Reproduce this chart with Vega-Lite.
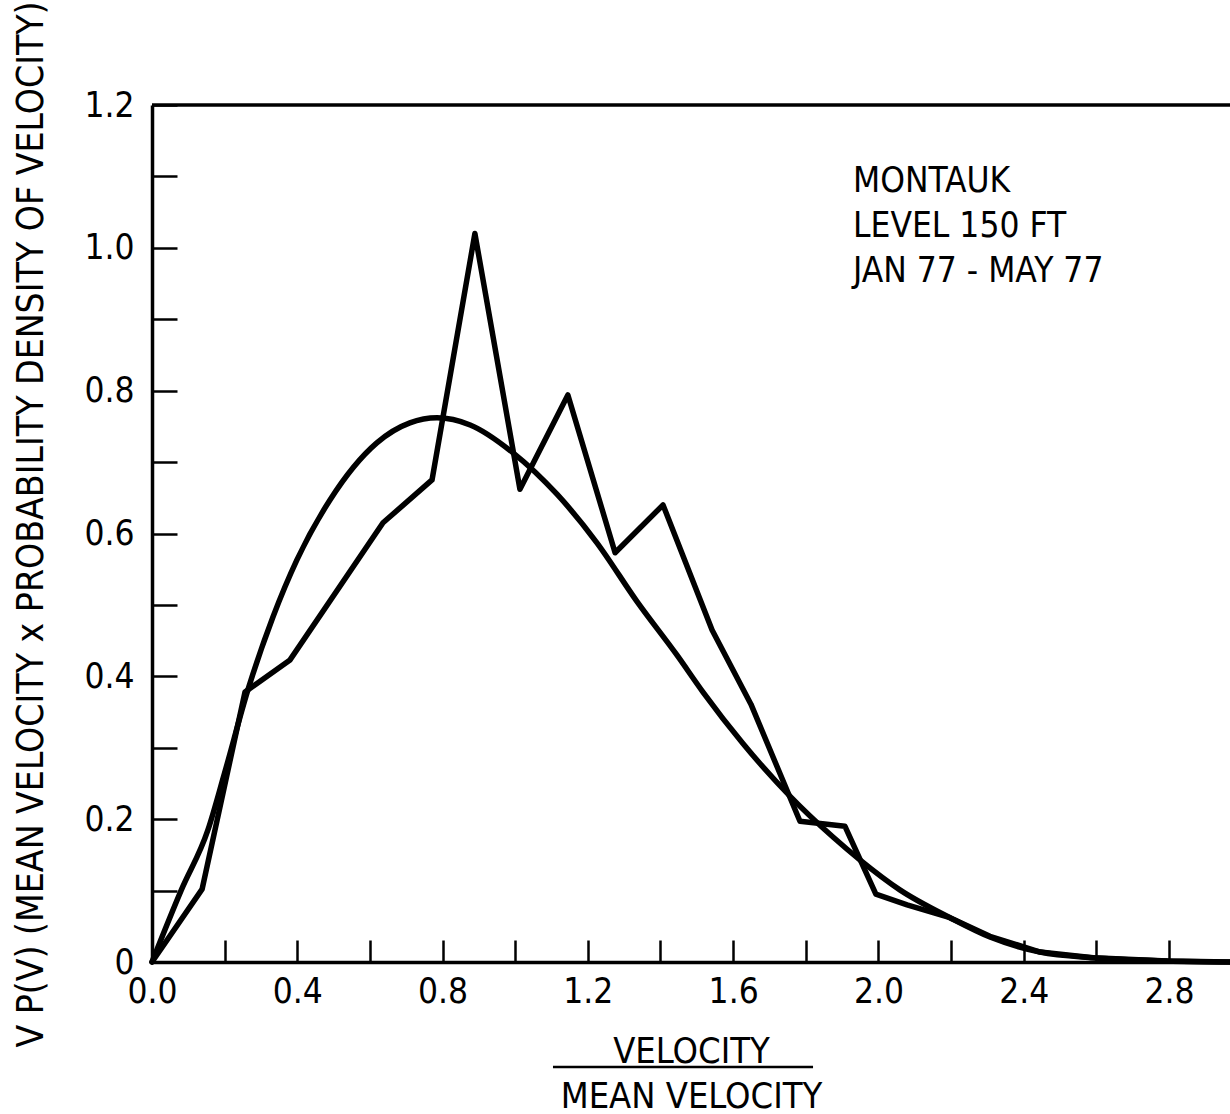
{
  "$schema": "https://vega.github.io/schema/vega-lite/v6.json",
  "width": 1078,
  "height": 857,
  "autosize": {"type": "none"},
  "padding": {"left": 152, "top": 105, "right": 0, "bottom": 152},
  "background": "white",
  "config": {"view": {"stroke": null}, "font": "DejaVu Sans Condensed, DejaVu Sans, sans-serif"},
  "datasets": {
    "observed": [
      {"v": 0, "vp": 0}, {"v": 0.138, "vp": 0.102}, {"v": 0.256, "vp": 0.378}, {"v": 0.38, "vp": 0.423},
      {"v": 0.636, "vp": 0.615}, {"v": 0.771, "vp": 0.675}, {"v": 0.889, "vp": 1.02}, {"v": 1.013, "vp": 0.662},
      {"v": 1.145, "vp": 0.794}, {"v": 1.275, "vp": 0.573}, {"v": 1.407, "vp": 0.64}, {"v": 1.542, "vp": 0.465},
      {"v": 1.649, "vp": 0.361}, {"v": 1.784, "vp": 0.197}, {"v": 1.908, "vp": 0.19}, {"v": 1.993, "vp": 0.095},
      {"v": 2.079, "vp": 0.08}, {"v": 2.197, "vp": 0.062}, {"v": 2.307, "vp": 0.036}, {"v": 2.445, "vp": 0.014},
      {"v": 2.591, "vp": 0.006}, {"v": 2.795, "vp": 0.0015}, {"v": 2.968, "vp": 0}
    ],
    "fitted": [
      {"v": 0, "vp": 0}, {"v": 0.08, "vp": 0.1}, {"v": 0.154, "vp": 0.185}, {"v": 0.2, "vp": 0.265},
      {"v": 0.264, "vp": 0.381}, {"v": 0.333, "vp": 0.483}, {"v": 0.399, "vp": 0.563}, {"v": 0.49, "vp": 0.647},
      {"v": 0.619, "vp": 0.727}, {"v": 0.71, "vp": 0.755}, {"v": 0.785, "vp": 0.762}, {"v": 0.876, "vp": 0.752},
      {"v": 0.994, "vp": 0.713}, {"v": 1.115, "vp": 0.655}, {"v": 1.225, "vp": 0.587}, {"v": 1.335, "vp": 0.505},
      {"v": 1.445, "vp": 0.43}, {"v": 1.517, "vp": 0.378}, {"v": 1.627, "vp": 0.306}, {"v": 1.757, "vp": 0.232},
      {"v": 1.875, "vp": 0.175}, {"v": 1.949, "vp": 0.143}, {"v": 2.059, "vp": 0.101}, {"v": 2.197, "vp": 0.062},
      {"v": 2.307, "vp": 0.035}, {"v": 2.445, "vp": 0.014}, {"v": 2.591, "vp": 0.006}, {"v": 2.795, "vp": 0.0015},
      {"v": 2.968, "vp": 0}
    ]
  },
  "layer": [
    {
      "data": {"name": "fitted"},
      "mark": {"type": "line", "interpolate": "monotone", "color": "black", "strokeWidth": 5.5, "strokeJoin": "round", "strokeCap": "round"},
      "encoding": {
        "x": {
          "field": "v", "type": "quantitative",
          "scale": {"domain": [0, 2.968], "nice": false, "zero": false},
          "axis": {
            "values": [0, 0.2, 0.4, 0.6, 0.8, 1.0, 1.2, 1.4, 1.6, 1.8, 2.0, 2.2, 2.4, 2.6, 2.8],
            "labelExpr": "round(datum.value * 10) % 4 == 0 ? format(datum.value, '.1f') : ''",
            "grid": false,
            "domainColor": "black", "domainWidth": 3.5,
            "tickColor": "black", "tickWidth": 2.5, "tickSize": -22,
            "labelPadding": 34, "labelFontSize": 35, "labelColor": "black", "labelFont": "DejaVu Sans Condensed, DejaVu Sans, sans-serif",
            "labelFlush": false, "labelOverlap": false, "labelBound": false,
            "title": ["VELOCITY", "MEAN VELOCITY"],
            "titleFont": "DejaVu Sans Condensed, DejaVu Sans, sans-serif", "titleFontSize": 36, "titleFontWeight": "normal", "titleColor": "black",
            "titleLineHeight": 45, "titleBaseline": "alphabetic", "titleY": 100, "titleX": 539, "titleAlign": "center"
          }
        },
        "y": {
          "field": "vp", "type": "quantitative",
          "scale": {"domain": [0, 1.2], "nice": false, "zero": false},
          "axis": {
            "values": [0, 0.1, 0.2, 0.3, 0.4, 0.5, 0.6, 0.7, 0.8, 0.9, 1.0, 1.1, 1.2],
            "labelExpr": "round(datum.value * 10) % 2 == 1 ? '' : (datum.value == 0 ? '0' : format(datum.value, '.1f'))",
            "grid": false,
            "domainColor": "black", "domainWidth": 3.5,
            "tickColor": "black", "tickWidth": 2.5, "tickSize": -25,
            "labelPadding": 43, "labelFontSize": 35, "labelColor": "black", "labelFont": "DejaVu Sans Condensed, DejaVu Sans, sans-serif",
            "labelOverlap": false, "labelBound": false, "labelFlush": false,
            "title": "V P(V) (MEAN VELOCITY x PROBABILITY DENSITY OF VELOCITY)",
            "titleFont": "DejaVu Sans Condensed, DejaVu Sans, sans-serif", "titleFontSize": 37, "titleFontWeight": "normal", "titleColor": "black",
            "titleAngle": -90, "titleAlign": "center", "titleBaseline": "middle", "titleX": -121, "titleY": 419
          }
        }
      }
    },
    {
      "data": {"name": "observed"},
      "mark": {"type": "line", "color": "black", "strokeWidth": 5.5, "strokeJoin": "round", "strokeCap": "round"},
      "encoding": {
        "x": {"field": "v", "type": "quantitative"},
        "y": {"field": "vp", "type": "quantitative"}
      }
    },
    {
      "data": {"values": [{}]},
      "mark": {"type": "rule", "color": "black", "strokeWidth": 3.5},
      "encoding": {"y": {"datum": 1.2}}
    },
    {
      "data": {"values": [{}]},
      "mark": {"type": "rule", "color": "black", "strokeWidth": 2.5},
      "encoding": {"x": {"datum": 1.104}, "x2": {"datum": 1.82}, "y": {"datum": -0.147}}
    },
    {
      "data": {"values": [{}]},
      "mark": {
        "type": "text", "text": ["MONTAUK", "LEVEL 150 FT", "JAN 77 - MAY 77"],
        "align": "left", "baseline": "alphabetic", "fontSize": 35, "lineHeight": 45,
        "font": "DejaVu Sans Condensed, DejaVu Sans, sans-serif", "color": "black"
      },
      "encoding": {"x": {"datum": 1.93}, "y": {"datum": 1.078}}
    }
  ]
}
